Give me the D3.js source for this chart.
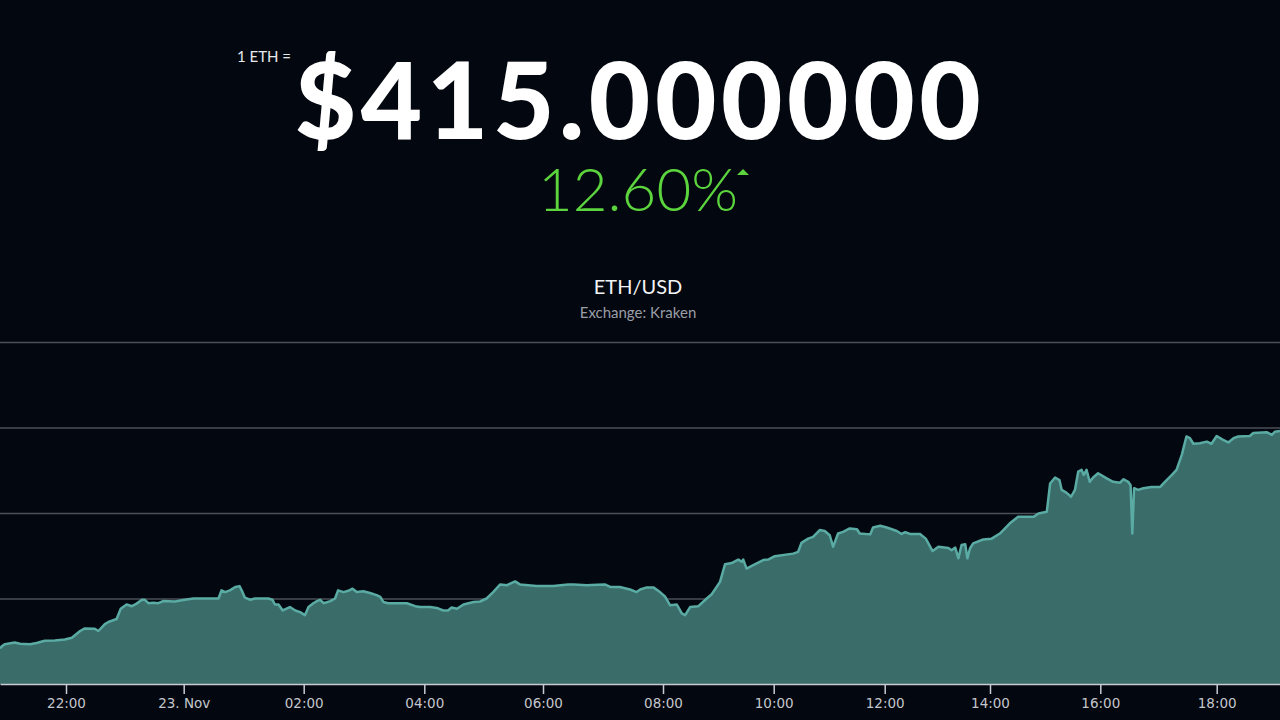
<!DOCTYPE html>
<html>
<head>
<meta charset="utf-8">
<script src="https://cdn.jsdelivr.net/npm/d3@7"></script>
<style>
  html, body { margin: 0; padding: 0; background: #03070f; }
  svg { display: block; }
  .grid line { stroke: #4b4f57; stroke-width: 1.5; }
  .grid .domain { display: none; }
  .axis--x .domain { stroke: #c8ccd2; stroke-width: 1.5; }
  .axis--x line { stroke: #c8ccd2; stroke-width: 1.5; }
  .axis--x text { fill: #c3c6cc; font-family: "DejaVu Sans", sans-serif; font-size: 13.5px; }
</style>
</head>
<body>
<div id="chart"></div>
<script>
// price header
const pair = "ETH/USD";
const exchange = "Exchange: Kraken";
const priceLabel = "$415.000000";
const changeLabel = "12.60%";

// hours relative to 23 Nov 2017 00:00
const hours = [
  -3.12, -3.09, -3.04, -2.87, -2.78, -2.61, -2.50, -2.36, -2.19, -2.02,
  -1.90, -1.76, -1.68, -1.51, -1.45, -1.34, -1.28, -1.14, -1.07, -0.97,
  -0.88, -0.80, -0.71, -0.66, -0.60, -0.52, -0.43, -0.35, -0.15, 0.02,
  0.16, 0.58, 0.63, 0.69, 0.77, 0.86, 0.93, 0.97, 1.02, 1.11,
  1.19, 1.41, 1.48, 1.52, 1.58, 1.65, 1.77, 1.86, 1.94, 2.02,
  2.08, 2.16, 2.22, 2.27, 2.33, 2.44, 2.52, 2.57, 2.66, 2.74,
  2.81, 2.88, 2.99, 3.10, 3.21, 3.27, 3.32, 3.40, 3.71, 3.85,
  3.93, 4.10, 4.21, 4.32, 4.40, 4.46, 4.55, 4.66, 4.83, 4.94,
  5.05, 5.16, 5.28, 5.39, 5.53, 5.61, 5.89, 6.17, 6.42, 6.51,
  6.73, 6.90, 7.03, 7.12, 7.28, 7.45, 7.56, 7.62, 7.73, 7.84,
  7.95, 8.04, 8.13, 8.25, 8.34, 8.40, 8.49, 8.64, 8.79, 8.88,
  9.03, 9.12, 9.24, 9.36, 9.42, 9.45, 9.51, 9.63, 9.81, 9.90,
  10.02, 10.35, 10.44, 10.50, 10.62, 10.71, 10.83, 10.92, 11.01, 11.07,
  11.16, 11.25, 11.37, 11.50, 11.55, 11.74, 11.79, 11.92, 12.04, 12.23,
  12.32, 12.39, 12.48, 12.67, 12.78, 12.91, 13.02, 13.21, 13.27, 13.34,
  13.40, 13.46, 13.53, 13.57, 13.62, 13.68, 13.87, 14.03, 14.18, 14.36,
  14.51, 14.79, 14.88, 15.03, 15.09, 15.18, 15.26, 15.30, 15.39, 15.47,
  15.54, 15.60, 15.66, 15.70, 15.75, 15.81, 15.87, 15.96, 16.11, 16.22,
  16.34, 16.40, 16.48, 16.52, 16.55, 16.58, 16.65, 16.74, 16.88, 17.03,
  17.11, 17.23, 17.31, 17.40, 17.48, 17.54, 17.60, 17.71, 17.83, 17.91,
  18.00, 18.11, 18.20, 18.29, 18.37, 18.57, 18.63, 18.86, 18.95, 19.00,
  19.09
];

const prices = [
  368.3, 368.8, 369.3, 369.7, 369.4, 369.3, 369.6, 370.1, 370.2, 370.4,
  370.8, 372.4, 373.0, 372.9, 372.4, 374.0, 374.5, 375.2, 377.6, 378.6,
  378.2, 378.8, 379.7, 379.7, 378.9, 379.0, 378.9, 379.4, 379.3, 379.7,
  380.0, 380.0, 381.9, 381.5, 381.9, 382.7, 382.9, 381.8, 380.2, 379.7,
  380.0, 380.0, 379.7, 378.6, 378.6, 377.2, 378.0, 377.2, 376.8, 376.1,
  378.0, 378.9, 379.4, 379.7, 378.9, 379.4, 380.0, 381.9, 381.5, 381.8,
  382.3, 381.5, 381.7, 381.3, 380.8, 380.4, 379.2, 378.9, 378.9, 378.2,
  378.0, 378.0, 377.8, 377.2, 377.2, 377.9, 377.6, 378.6, 379.2, 379.3,
  380.0, 381.5, 383.3, 383.1, 384.0, 383.3, 382.9, 382.9, 383.3, 383.3,
  383.1, 383.2, 383.3, 382.7, 382.7, 382.1, 381.5, 382.1, 382.6, 382.6,
  381.5, 380.4, 378.4, 378.6, 376.5, 376.1, 378.0, 378.2, 380.0, 381.0,
  383.9, 388.0, 388.3, 389.1, 388.6, 389.1, 387.0, 387.8, 389.0, 389.1,
  389.9, 390.5, 390.9, 393.0, 394.0, 394.4, 396.0, 395.8, 394.8, 392.1,
  395.2, 395.6, 396.4, 396.2, 395.2, 395.0, 396.6, 397.0, 396.6, 395.8,
  395.1, 395.5, 395.1, 395.1, 394.0, 391.1, 392.1, 391.8, 391.3, 391.9,
  389.4, 392.5, 392.7, 389.4, 391.7, 392.9, 393.8, 394.0, 395.2, 397.6,
  399.1, 399.1, 399.9, 400.3, 406.9, 408.3, 407.7, 405.4, 404.7, 403.8,
  405.4, 409.7, 410.1, 408.9, 410.1, 407.3, 408.3, 409.3, 408.1, 407.3,
  407.1, 407.9, 407.3, 406.5, 395.2, 405.8, 405.4, 405.8, 406.1, 406.1,
  407.3, 408.9, 410.1, 413.6, 417.9, 417.5, 416.2, 416.3, 416.7, 416.2,
  418.0, 417.1, 416.5, 417.5, 417.9, 418.0, 418.7, 418.9, 418.3, 419.0,
  419.2
];

const tickHours = [-2, 0, 2, 4, 6, 8, 10, 12, 14, 16, 18];
const tickLabels = ["22:00", "23. Nov", "02:00", "04:00", "06:00", "08:00",
  "10:00", "12:00", "14:00", "16:00", "18:00"];
const gridValues = [380, 400, 420, 440];

const W = 1280, H = 720;
const plotTop = 342, plotBottom = 684;
// ordinal-style axis: hour knots and where they land on screen
const knotHours = [-3.12].concat(tickHours, [19.09]);
const knotX = [0, 66, 183.7, 303.7, 424.3, 543, 663, 773.7, 884.7, 990, 1100.3, 1216.7, 1280];

const origin = new Date(2017, 10, 23, 0, 0);
const toDate = h => new Date(origin.getTime() + h * 3600e3);

const data = hours.map((h, i) => ({ date: toDate(h), price: prices[i] }));

const x = d3.scaleTime()
  .domain(knotHours.map(toDate))
  .range(knotX);

const y = d3.scaleLinear()
  .domain([360, 440])
  .range([plotBottom, plotTop]);

const svg = d3.select("#chart").append("svg")
  .attr("width", W)
  .attr("height", H);

svg.append("rect")
  .attr("width", W).attr("height", H)
  .attr("fill", "#03070f");

// header
svg.append("text")
  .attr("x", 237).attr("y", 62)
  .attr("fill", "#e6e8ec")
  .style("font-family", "Lato, sans-serif")
  .style("font-size", "15px")
  .text("1 ETH =");

svg.append("text")
  .attr("class", "price")
  .attr("x", 640).attr("y", 139)
  .attr("text-anchor", "middle")
  .attr("fill", "#ffffff")
  .style("font-family", "Lato, sans-serif")
  .style("font-weight", 900)
  .style("font-size", "106px")
  .style("letter-spacing", "4.6px")
  .text(priceLabel);

svg.append("text")
  .attr("x", 638).attr("y", 211)
  .attr("text-anchor", "middle")
  .attr("fill", "#5bd43d")
  .style("font-family", "Lato, sans-serif")
  .style("font-weight", 300)
  .style("font-size", "60px")
  .text(changeLabel);

svg.append("path")
  .attr("d", "M737,175 L743,169 L749,175 Z")
  .attr("fill", "#5bd43d");

svg.append("text")
  .attr("x", 638).attr("y", 294)
  .attr("text-anchor", "middle")
  .attr("fill", "#f2f3f5")
  .style("font-family", "Lato, sans-serif")
  .style("font-size", "20px")
  .text(pair);

svg.append("text")
  .attr("x", 638).attr("y", 318)
  .attr("text-anchor", "middle")
  .attr("fill", "#9a9ea6")
  .style("font-family", "Lato, sans-serif")
  .style("font-size", "15px")
  .text(exchange);

// grid lines
svg.append("g")
  .attr("class", "grid")
  .call(d3.axisRight(y)
    .tickValues(gridValues)
    .tickSize(W)
    .tickFormat(""));

// area + line
const area = d3.area()
  .x(d => x(d.date))
  .y0(plotBottom)
  .y1(d => y(d.price));

const line = d3.line()
  .x(d => x(d.date))
  .y(d => y(d.price));

svg.append("path")
  .datum(data)
  .attr("fill", "#3a6c6a")
  .attr("d", area);

svg.append("path")
  .datum(data)
  .attr("fill", "none")
  .attr("stroke", "#5aaba3")
  .attr("stroke-width", 2.5)
  .attr("stroke-linejoin", "round")
  .attr("d", line);

// x axis
svg.append("g")
  .attr("class", "axis axis--x")
  .attr("transform", "translate(0," + plotBottom + ")")
  .call(d3.axisBottom(x)
    .tickValues(tickHours.map(toDate))
    .tickFormat((d, i) => tickLabels[i])
    .tickSize(10)
    .tickSizeOuter(0)
    .tickPadding(4));
</script>
</body>
</html>
